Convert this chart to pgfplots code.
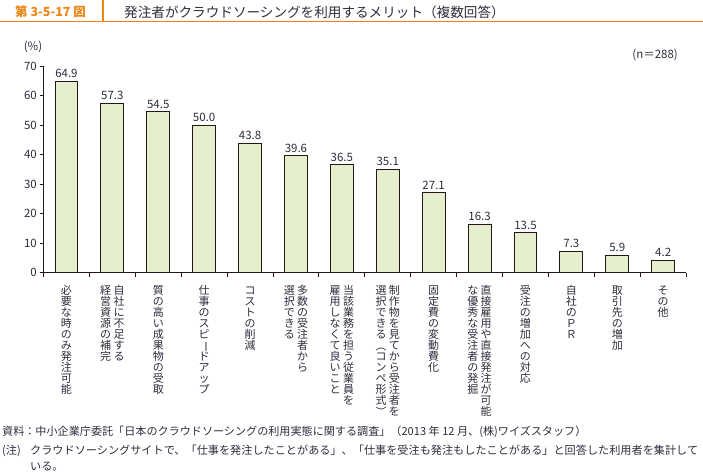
\documentclass[border=0pt]{standalone}
\usepackage{pgfplots}
\pgfplotsset{compat=1.18}
\usepackage{fontspec}
\setmainfont{Noto Sans CJK JP}
\usepackage{graphicx}
\definecolor{barfill}{RGB}{229,239,206}
\definecolor{barline}{RGB}{35,24,21}
\definecolor{txt}{RGB}{45,45,60}
\definecolor{orng}{RGB}{236,133,20}
\def\vchouon{ー}
\def\vlp{（}
\def\vrp{）}
\newcommand\vglyph[1]{\def\vtmp{#1}%
 \ifx\vtmp\vchouon \rotatebox[origin=c]{-90}{#1}%
 \else\ifx\vtmp\vlp \rotatebox[origin=c]{-90}{#1}%
 \else\ifx\vtmp\vrp \rotatebox[origin=c]{-90}{#1}%
 \else #1\fi\fi\fi}
\newcommand\vcol[1]{\vtop{\offinterlineskip\hsize=11.5bp\vcolaux#1\relax}}
\def\vcolaux#1{\ifx\relax#1\else\hbox to \hsize{\hss\vrule height 8.8bp depth 2.2bp width 0pt\smash{\vglyph{#1}}\hss}\expandafter\vcolaux\fi}
\newcommand\vlab[2]{\hbox{\vcol{#2}\kern1.8bp\vcol{#1}}}
\begin{document}
\begin{tikzpicture}[x=1bp,y=1bp]
\begin{axis}[
  at={(43.5bp,200.3bp)}, anchor=south west,
  scale only axis, width=642.6bp, height=206.7bp,
  xmin=-0.5, xmax=13.5, ymin=0, ymax=70,
  axis lines=left, axis line style={-, draw=barline, line width=0.9bp},
  tick align=inside,
  major tick length=4bp, minor tick length=4bp,
  xtick={0,...,13},
  minor xtick={-0.5,0.5,...,13.5},
  major x tick style={draw=none},
  minor x tick style={draw=barline, line width=0.9bp},
  ytick={0,10,...,70},
  ytick style={xshift=-4bp, draw=barline, line width=0.9bp},
  /pgf/number format/assume math mode=true,
  y tick label style={font=\fontsize{11.5bp}{13bp}\selectfont, text=txt, inner sep=0pt, xshift=-6.5bp},
  x tick label style={font=\fontsize{11bp}{11bp}\selectfont, text=txt, inner sep=0pt, anchor=north, yshift=-9bp},
  xticklabels={
    {\vcol{必要な時のみ発注可能}},
    {\vlab{自社に不足する}{経営資源の補完}},
    {\vcol{質の高い成果物の受取}},
    {\vcol{仕事のスピードアップ}},
    {\vcol{コストの削減}},
    {\vlab{多数の受注者から}{選択できる}},
    {\vlab{当該業務を担う従業員を}{雇用しなくて良いこと}},
    {\vlab{制作物を見てから受注者を}{選択できる（コンペ形式）}},
    {\vcol{固定費の変動費化}},
    {\vlab{直接雇用や直接発注が可能}{な優秀な受注者の発掘}},
    {\vcol{受注の増加への対応}},
    {\vcol{自社のＰＲ}},
    {\vcol{取引先の増加}},
    {\vcol{その他}}},
  ybar, bar width=0.5,
  nodes near coords={\pgfmathprintnumber[fixed,fixed zerofill,precision=1,assume math mode=true]{\pgfplotspointmeta}},
  every node near coord/.append style={font=\fontsize{11.5bp}{13bp}\selectfont, text=txt, inner sep=0pt, anchor=south, yshift=3bp},
]
\addplot[fill=barfill, draw=barline, line width=0.9bp] coordinates {
  (0,64.9) (1,57.3) (2,54.5) (3,50.0) (4,43.8) (5,39.6) (6,36.5)
  (7,35.1) (8,27.1) (9,16.3) (10,13.5) (11,7.3) (12,5.9) (13,4.2)};
\end{axis}
\draw[orng, line width=1.6bp] (0,451.5) -- (703,451.5);
\draw[orng, line width=1.2bp] (103,451.5) -- (103,473);
\node[anchor=west, text=orng, font=\fontsize{12.5bp}{14bp}\selectfont\bfseries, inner sep=0pt] at (15,461) {第 3-5-17 図};
\node[anchor=west, text=txt, font=\fontsize{13.6bp}{15bp}\selectfont, inner sep=0pt] at (124,461) {発注者がクラウドソーシングを利用するメリット（複数回答）};
\node[text=txt, font=\fontsize{11.5bp}{13bp}\selectfont, inner sep=0pt] at (33,426) {(\%)};
\node[anchor=east, text=txt, font=\fontsize{11.5bp}{13bp}\selectfont, inner sep=0pt] at (678,418) {(n＝288)};
\node[anchor=west, text=txt, font=\fontsize{11.1bp}{13bp}\selectfont, inner sep=0pt] at (2,41) {資料：中小企業庁委託「日本のクラウドソーシングの利用実態に関する調査」（2013 年 12 月、(株)ワイズスタッフ）};
\node[anchor=west, text=txt, font=\fontsize{11.15bp}{13bp}\selectfont, inner sep=0pt] at (2,22) {\hbox to 28bp{(注)\hss}クラウドソーシングサイトで、「仕事を発注したことがある」、「仕事を受注も発注もしたことがある」と回答した利用者を集計して};
\node[anchor=west, text=txt, font=\fontsize{11.15bp}{13bp}\selectfont, inner sep=0pt] at (30,6) {いる。};
\pgfresetboundingbox
\path[use as bounding box] (0,0) rectangle (703,473);
\end{tikzpicture}
\end{document}
